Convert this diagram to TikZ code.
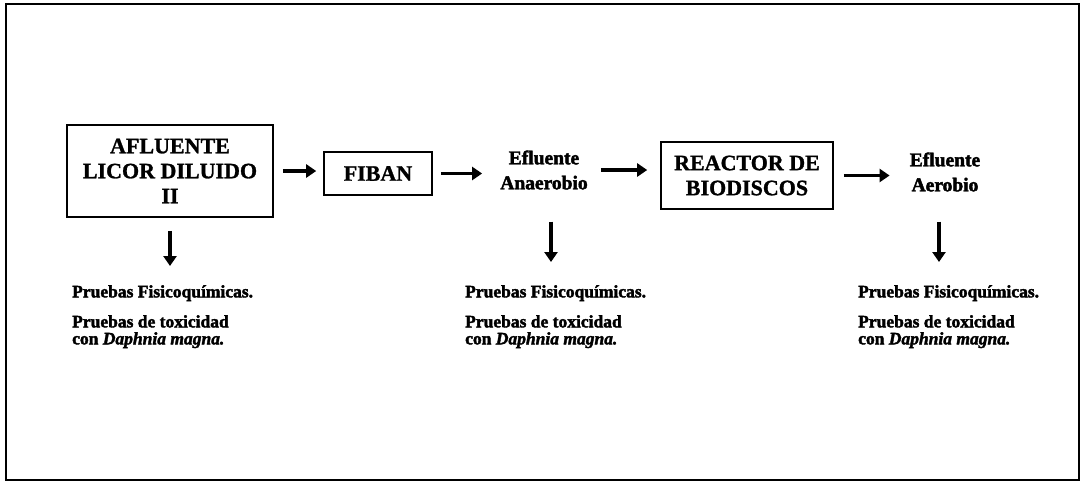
\documentclass[tikz,border=0pt]{standalone}
\usepackage{fontspec}
\setmainfont{Liberation Serif}
% heavier cuts of the bold face for the labels
\newfontfamily\stagefont{Liberation Serif}[BoldFont={Liberation Serif Bold}, BoldFeatures={FakeBold=1.2}]
\newfontfamily\heavyfont{Liberation Serif}[BoldFont={Liberation Serif Bold}, BoldFeatures={FakeBold=2.2},
  BoldItalicFont={Liberation Serif Bold Italic}, BoldItalicFeatures={FakeBold=2.2}]
\usetikzlibrary{arrows.meta}
\begin{document}
\begin{tikzpicture}[x=1pt,y=-1pt,
  frame/.style={line width=2.6pt},
  stage/.style={draw, line width=1.6pt, align=center, inner sep=0pt,
    font=\fontsize{22}{25}\stagefont\bfseries},
  flowtext/.style={align=center, inner sep=0pt,
    font=\fontsize{19.5}{25}\heavyfont\bfseries},
  notes/.style={align=left, anchor=north west, inner sep=0pt,
    font=\fontsize{17.5}{17}\heavyfont\bfseries},
  flow/.style={line width=3.4pt, -{Triangle[length=10pt,width=13pt]}},
]
\useasboundingbox (0,0) rectangle (1082,483);
\draw[frame] (6,4) rectangle (1079,480);

% process stages
\node[stage, minimum width=206pt, minimum height=92pt] (afl) at (170,171)
  {AFLUENTE\\LICOR DILUIDO\\II};
\node[stage, minimum width=108pt, minimum height=43pt] (fiban) at (378,173.5) {FIBAN};
\node[flowtext] (anae) at (544,170) {Efluente\\Anaerobio};
\node[stage, minimum width=172pt, minimum height=67pt] (reac) at (747,175.5)
  {REACTOR DE\\BIODISCOS};
\node[flowtext] (aero) at (945,172) {Efluente\\Aerobio};

% analyses at each sampling point
\node[notes] (t1) at (72,285) {Pruebas Fisicoquímicas.\\[13pt]
  Pruebas de toxicidad\\con \textit{Daphnia magna.}};
\node[notes] (t2) at (465,285) {Pruebas Fisicoquímicas.\\[13pt]
  Pruebas de toxicidad\\con \textit{Daphnia magna.}};
\node[notes] (t3) at (858,285) {Pruebas Fisicoquímicas.\\[13pt]
  Pruebas de toxicidad\\con \textit{Daphnia magna.}};

% main flow
\draw[flow, shorten <=9pt, shorten >=7pt] (afl.east) -- (afl.east -| fiban.west);
\draw[flow, shorten <=8pt, shorten >=18pt] (fiban.east) -- (fiban.east -| anae.west);
\draw[flow, shorten <=13pt, shorten >=13pt] (anae.east) -- (anae.east -| reac.west);
\draw[flow, shorten <=10pt, shorten >=20pt] (reac.east) -- (reac.east -| aero.west);

% sampling arrows
\draw[flow, shorten <=13pt, shorten >=19pt] (afl.south) -- (afl.south |- t1.north);
\draw[flow, shorten <=32pt, shorten >=23pt] ([xshift=7pt]anae.south) -- ([xshift=7pt]anae.south |- t2.north);
\draw[flow, shorten <=30pt, shorten >=23pt] ([xshift=-6pt]aero.south) -- ([xshift=-6pt]aero.south |- t3.north);
\end{tikzpicture}
\end{document}
